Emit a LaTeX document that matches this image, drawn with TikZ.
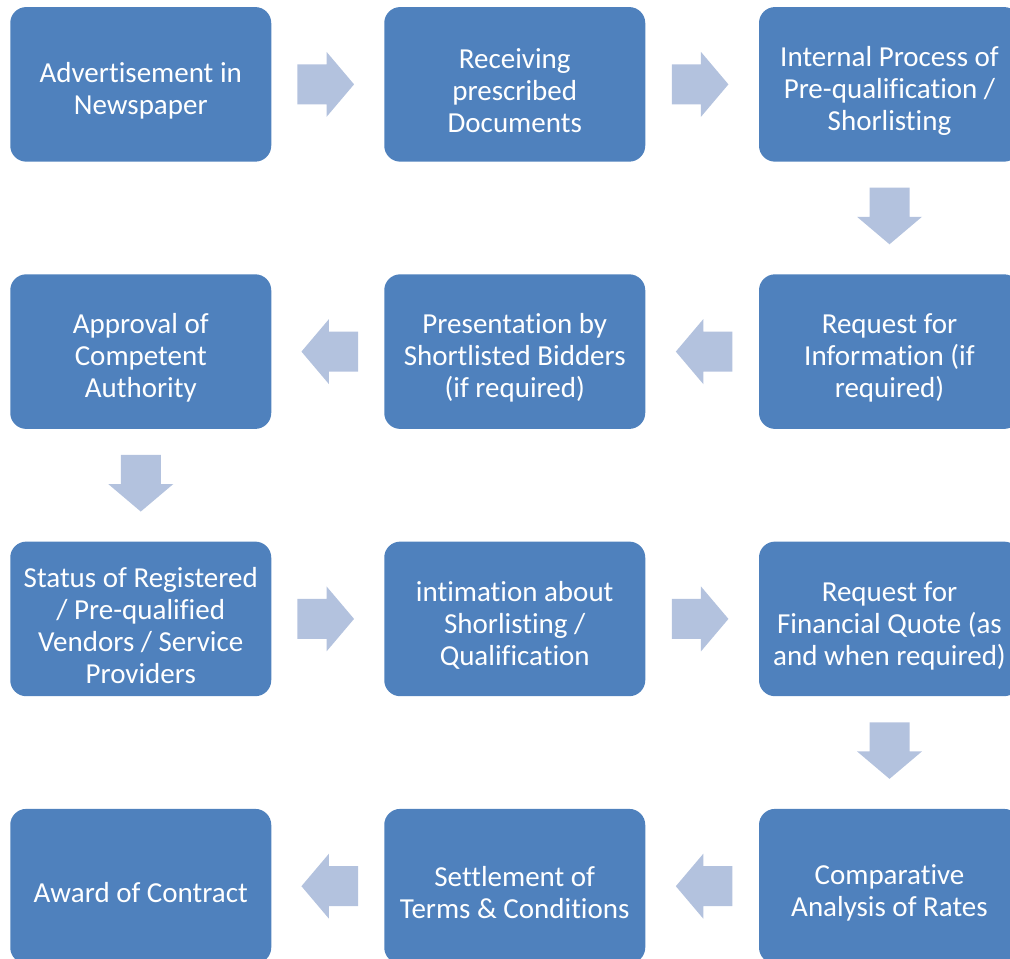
\documentclass[tikz,border=0pt]{standalone}
\usepackage{fontspec}
\setmainfont{Carlito}[Ligatures={NoCommon,NoRequired,NoContextual}]
\usetikzlibrary{calc}
\definecolor{boxblue}{HTML}{4F81BD}
\definecolor{arrowblue}{HTML}{B3C2DE}
\tikzset{
  stepbox/.style={rectangle, rounded corners=16pt, fill=boxblue, draw=none,
    minimum width=261pt, minimum height=154.6pt, inner sep=0pt},
  steptext/.style={inner sep=0pt, text=white, align=center,
    font=\fontsize{29}{32}\selectfont},
  blockarrow/.pic={\fill[arrowblue] (-28.3,-20) -- (0.8,-20) -- (0.8,-32.5) -- (28.3,0)
    -- (0.8,32.5) -- (0.8,20) -- (-28.3,20) -- cycle;}
}
\newcommand{\stepnode}[4]{%
  \node[stepbox] (#1) at (#2) {};
  \node[steptext] (#1t) at ([yshift=-6.5pt]#1.center) {#3};}
\begin{document}
\begin{tikzpicture}[x=1pt,y=-1pt]
\useasboundingbox (0,0) rectangle (1010,959);
\clip (0,0) rectangle (1010,959);
% boxes
\stepnode{a1}{140.75,84.35}{Advertisement in\\Newspaper}{}
\stepnode{a2}{514.75,84.35}{Receiving\\prescribed\\Documents}{}
\stepnode{a3}{889.5,84.35}{Internal Process of\\Pre-qualification /\\Shorlisting}{}
\stepnode{b3}{889.5,351.6}{Request for\\Information (if\\required)}{}
\stepnode{b2}{514.75,351.6}{Presentation by\\Shortlisted Bidders\\(if required)}{}
\stepnode{b1}{140.75,351.6}{Approval of\\Competent\\Authority}{}
\stepnode{c1}{140.75,618.9}{Status of Registered\\/ Pre-qualified\\Vendors / Service\\Providers}{}
\stepnode{c2}{514.75,618.9}{intimation about\\Shorlisting /\\Qualification}{}
\stepnode{c3}{889.5,618.9}{Request for\\Financial Quote (as\\and when required)}{}
\stepnode{d3}{889.5,886.2}{Comparative\\Analysis of Rates}{}
\stepnode{d2}{514.75,886.2}{Settlement of\\Terms \& Conditions}{}
\stepnode{d1}{140.75,886.2}{Award of Contract}{}
% arrows
\pic (ar1) at ($(a1.east)!0.5!(a2.west)+(-2,0)$) {blockarrow};
\pic (ar2) at ($(a2.east)!0.5!(a3.west)+(-2,0)$) {blockarrow};
\pic[rotate=-90] (ar3) at ($(a3.south)!0.5!(b3.north)+(0,-2)$) {blockarrow};
\pic[rotate=180] (ar4) at ($(b3.west)!0.5!(b2.east)+(2,0)$) {blockarrow};
\pic[rotate=180] (ar5) at ($(b2.west)!0.5!(b1.east)+(2,0)$) {blockarrow};
\pic[rotate=-90] (ar6) at ($(b1.south)!0.5!(c1.north)+(0,-2)$) {blockarrow};
\pic (ar7) at ($(c1.east)!0.5!(c2.west)+(-2,0)$) {blockarrow};
\pic (ar8) at ($(c2.east)!0.5!(c3.west)+(-2,0)$) {blockarrow};
\pic[rotate=-90] (ar9) at ($(c3.south)!0.5!(d3.north)+(0,-2)$) {blockarrow};
\pic[rotate=180] (ar10) at ($(d3.west)!0.5!(d2.east)+(2,0)$) {blockarrow};
\pic[rotate=180] (ar11) at ($(d2.west)!0.5!(d1.east)+(2,0)$) {blockarrow};
\end{tikzpicture}
\end{document}
